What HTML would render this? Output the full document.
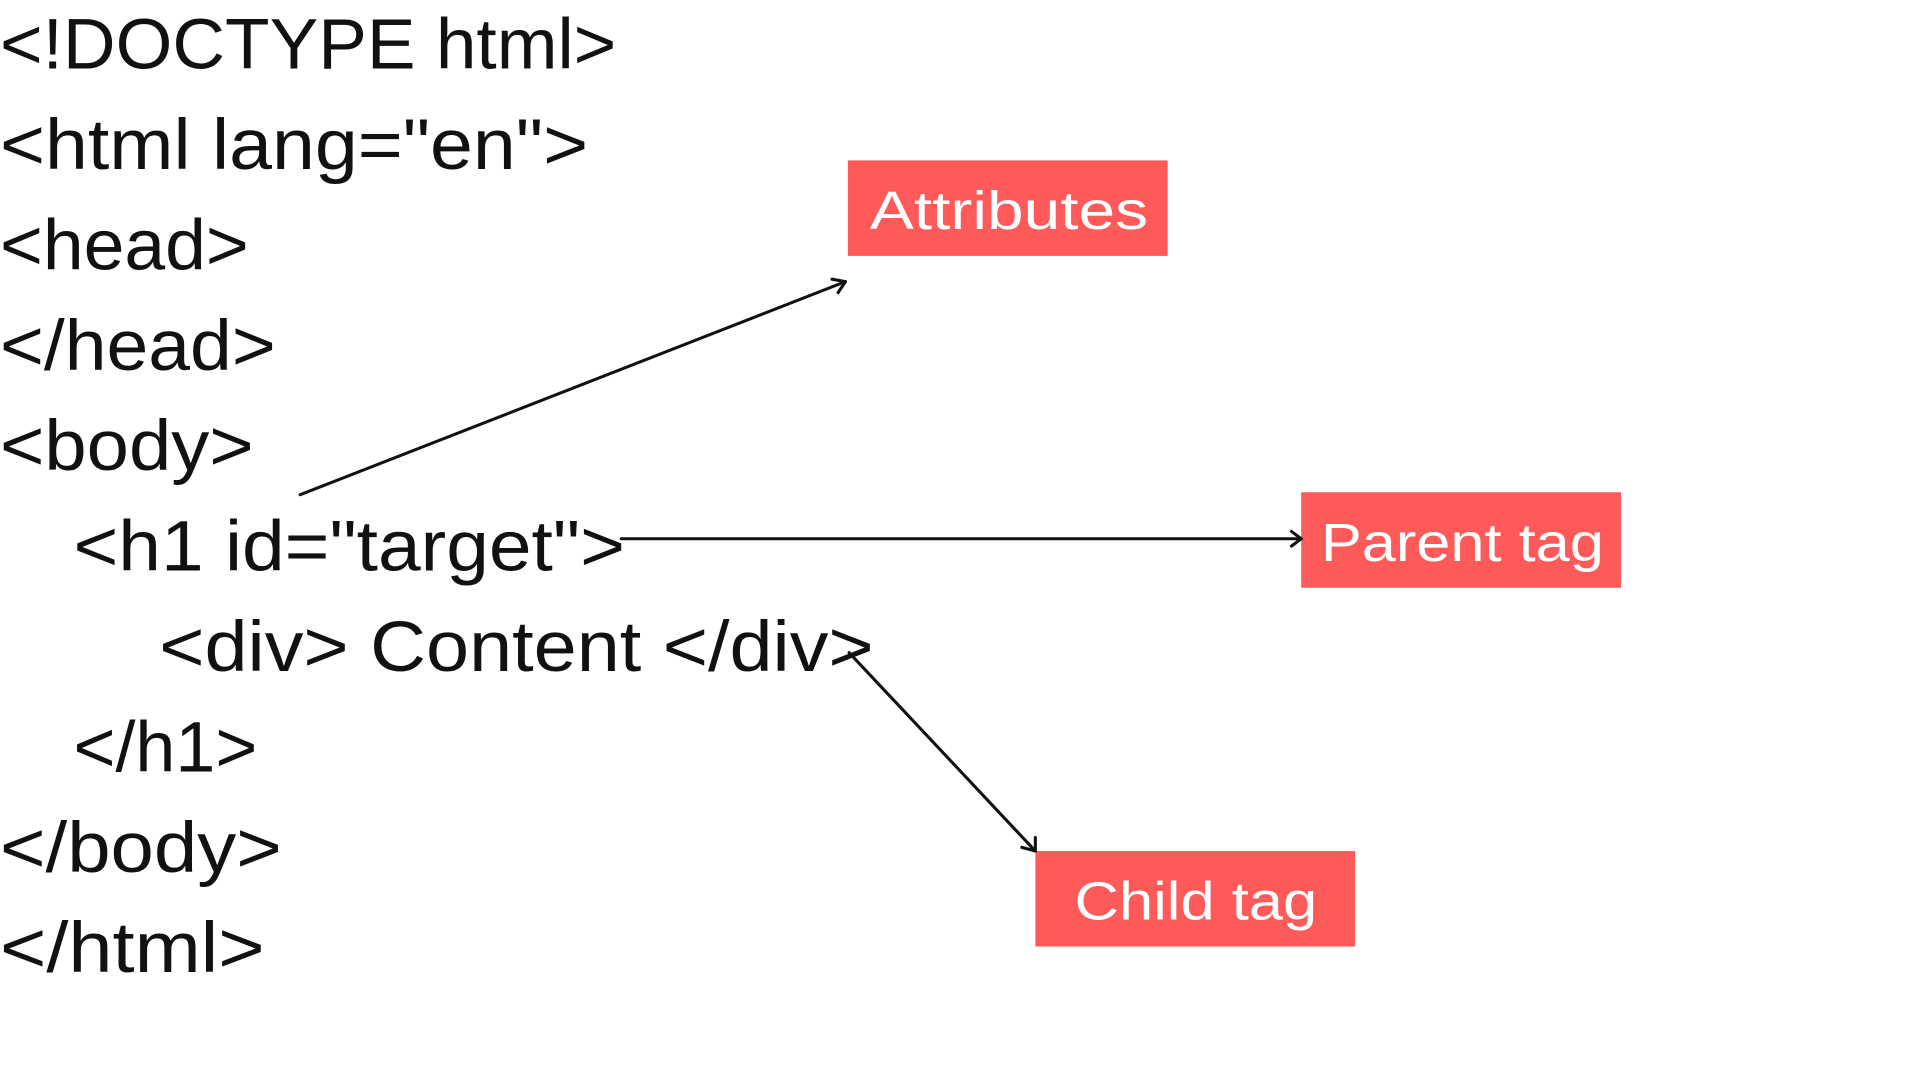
<!DOCTYPE html>
<html><head><style>html,body{margin:0;padding:0;background:#fff;overflow:hidden}svg{display:block}</style></head>
<body>
<svg width="1920" height="1080" viewBox="0 0 1567 882" preserveAspectRatio="none" xmlns="http://www.w3.org/2000/svg">
<rect width="1567" height="882" fill="#fff"/>
<g font-family="Liberation Sans, sans-serif" font-size="58" fill="#111">
<text x="0" y="56" textLength="503" lengthAdjust="spacingAndGlyphs">&lt;!DOCTYPE html&gt;</text>
<text x="0" y="138" textLength="480" lengthAdjust="spacingAndGlyphs">&lt;html lang="en"&gt;</text>
<text x="0" y="220" textLength="203" lengthAdjust="spacingAndGlyphs">&lt;head&gt;</text>
<text x="0" y="302" textLength="225" lengthAdjust="spacingAndGlyphs">&lt;/head&gt;</text>
<text x="0" y="384" textLength="207" lengthAdjust="spacingAndGlyphs">&lt;body&gt;</text>
<text x="60" y="466" textLength="450" lengthAdjust="spacingAndGlyphs">&lt;h1 id="target"&gt;</text>
<text x="130" y="548" textLength="583" lengthAdjust="spacingAndGlyphs">&lt;div&gt; Content &lt;/div&gt;</text>
<text x="60" y="630" textLength="150" lengthAdjust="spacingAndGlyphs">&lt;/h1&gt;</text>
<text x="0" y="712" textLength="230" lengthAdjust="spacingAndGlyphs">&lt;/body&gt;</text>
<text x="0" y="794" textLength="216" lengthAdjust="spacingAndGlyphs">&lt;/html&gt;</text>
</g>
<g fill="#ff5a5a">
<rect x="692" y="131" width="261" height="78"/>
<rect x="1062" y="402" width="261" height="78"/>
<rect x="845" y="695" width="261" height="78"/>
</g>
<g font-family="Liberation Sans, sans-serif" font-size="44" fill="#fff">
<text x="710" y="187" textLength="227" lengthAdjust="spacingAndGlyphs">Attributes</text>
<text x="1078" y="458" textLength="231" lengthAdjust="spacingAndGlyphs">Parent tag</text>
<text x="877" y="751" textLength="198" lengthAdjust="spacingAndGlyphs">Child tag</text>
</g>
<g stroke="#111" stroke-width="2.5" fill="none" stroke-linecap="round" stroke-linejoin="round">
<line x1="245" y1="404" x2="690" y2="230"/>
<polyline points="679,228 690,230 684,239"/>
<line x1="507" y1="440" x2="1062" y2="440"/>
<polyline points="1054,434 1062,440 1054,446"/>
<line x1="693" y1="533" x2="845" y2="695"/>
<polyline points="845,684 845,695 834,692"/>
</g>
</svg>
</body></html>
